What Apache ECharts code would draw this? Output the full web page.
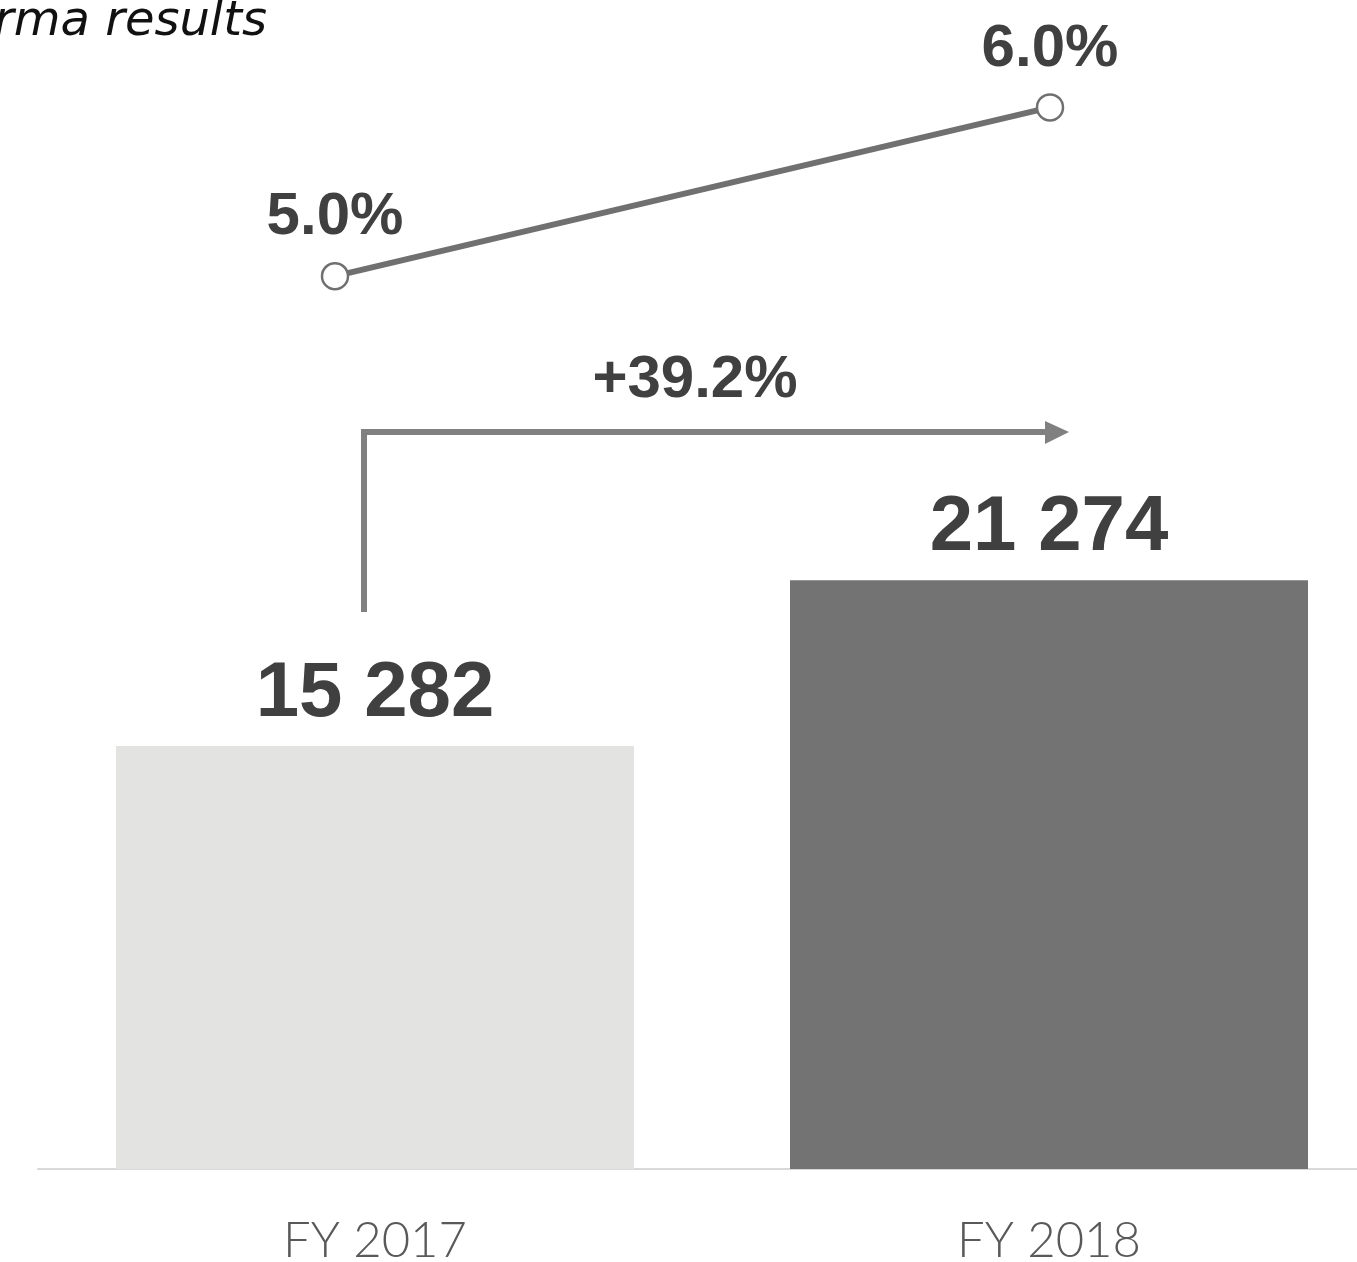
<!DOCTYPE html>
<html>
<head>
<meta charset="utf-8">
<title>Pro forma results</title>
<script src="https://cdn.jsdelivr.net/npm/echarts@6/dist/echarts.min.js"></script>
<style>
  html, body { margin: 0; padding: 0; background: #ffffff; }
  #chart { width: 1357px; height: 1262px; }
</style>
</head>
<body>
<div id="chart"></div>
<script>
// Fiscal years shown on the horizontal axis
const years = ['FY 2017', 'FY 2018'];
// Bar values (absolute figures)
const revenue = [15282, 21274];
// Margin line values, in percent
const margin = [5.0, 6.0];
// Year-over-year growth label above the arrow
const growthLabel = '+39.2%';
const titleText = 'Pro forma results';

const valueFont = '"Liberation Sans", Arial, sans-serif';
const lightFont = 'Lato, "Liberation Sans", sans-serif';
const titleFont = '"DejaVu Sans", sans-serif';

const chart = echarts.init(document.getElementById('chart'), null, { renderer: 'canvas' });

chart.setOption({
  animation: false,
  backgroundColor: '#ffffff',
  grid: [
    // bars
    { left: 38, width: 1348, top: 62, bottom: 93, containLabel: false, outerBoundsMode: 'none' },
    // margin line
    { left: 335, right: 307, top: 23, height: 422, containLabel: false, outerBoundsMode: 'none' }
  ],
  xAxis: [
    {
      type: 'category', gridIndex: 0, data: years,
      axisLine: { show: true, lineStyle: { color: '#d9d9d9', width: 2 } },
      axisTick: { show: false },
      axisLabel: {
        color: '#595959', fontFamily: lightFont, fontWeight: 300,
        fontSize: 49, margin: 48
      }
    },
    {
      type: 'category', gridIndex: 1, data: years, boundaryGap: false,
      show: false
    }
  ],
  yAxis: [
    { type: 'value', gridIndex: 0, min: 0, max: 40000, show: false, splitLine: { show: false } },
    { type: 'value', gridIndex: 1, min: 4, max: 6.5, show: false, splitLine: { show: false } }
  ],
  series: [
    {
      type: 'bar', xAxisIndex: 0, yAxisIndex: 0,
      barWidth: 518,
      data: revenue.map((v, i) => ({
        value: v,
        itemStyle: { color: i === 0 ? '#e3e3e2' : '#737373' }
      })),
      label: {
        show: true, position: 'top', distance: 13,
        color: '#404040', fontFamily: valueFont, fontWeight: 'bold', fontSize: 78,
        formatter: p => String(p.value).replace(/\B(?=(\d{3})+(?!\d))/g, ' ')
      }
    },
    {
      type: 'line', xAxisIndex: 1, yAxisIndex: 1,
      data: margin,
      symbol: 'circle', symbolSize: 26,
      lineStyle: { color: '#707070', width: 6 },
      itemStyle: { color: '#ffffff', borderColor: '#707070', borderWidth: 2.5 },
      label: {
        show: true, position: 'top', distance: 14,
        color: '#404040', fontFamily: valueFont, fontWeight: 'bold', fontSize: 60,
        formatter: p => p.value.toFixed(1) + '%'
      },
      z: 5
    }
  ],
  graphic: [
    // section title, clipped at the left edge of the canvas
    {
      type: 'text', x: 267, y: 47,
      style: {
        text: titleText, textAlign: 'right', textVerticalAlign: 'bottom',
        font: 'italic 400 48px ' + titleFont, fill: '#111111'
      }
    },
    // growth arrow
    {
      type: 'polyline',
      shape: { points: [[364, 612], [364, 432], [1048, 432]] },
      style: { stroke: '#808080', lineWidth: 6, fill: null, lineJoin: 'miter' }
    },
    {
      type: 'polygon',
      shape: { points: [[1045, 421], [1069, 432], [1045, 444]] },
      style: { fill: '#808080' }
    },
    {
      type: 'text', x: 695, y: 380,
      style: {
        text: growthLabel, textAlign: 'center', textVerticalAlign: 'middle',
        font: 'bold 60px ' + valueFont, fill: '#404040'
      }
    }
  ]
});
</script>
</body>
</html>
